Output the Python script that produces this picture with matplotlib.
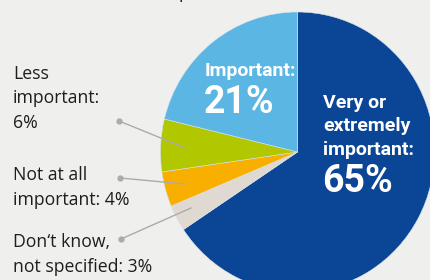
import matplotlib.pyplot as plt

# slices, clockwise from 12 o'clock
labels = ["Very or extremely important", "Don't know, not specified",
          "Not at all important", "Less important", "Important"]
shares = [65, 3, 4, 6, 21]
colors = ["#0B4595", "#E0D9D1", "#F9AF00", "#B1C700", "#5CB6E4"]

# outside labels (left column) and where their leader lines point
side_texts = ["Less\nimportant:\n6%", "Not at all\nimportant: 4%",
              "Don\u2018t know,\nnot specified: 3%"]
side_last_baseline = [128, 205, 272]      # px from top, last line
leader_start = [(119, 121), (120, 178), (121, 239)]
leader_end = [(183, 147), (185, 184), (191, 208)]

W, H = 430, 280
bg = "#EFEFED"

fig = plt.figure(figsize=(4.3, 2.8), dpi=100, facecolor=bg)

# pie in its own axes: centre (297.5, 152) px, radii 137 x 140 px
cx, cy, rx, ry = 297.5, 152, 137, 140
pax = fig.add_axes([(cx - rx) / W, (H - cy - ry) / H, 2 * rx / W, 2 * ry / H])
pax.pie(shares, colors=colors, startangle=90, counterclock=False,
        radius=1, frame=True,
        wedgeprops=dict(linewidth=0.4, edgecolor="#d8e2ee"))
pax.set_aspect("auto")
pax.set_xlim(-1, 1)
pax.set_ylim(-1, 1)
pax.axis("off")

# overlay axes in pixel units for texts and leader lines
ax = fig.add_axes([0, 0, 1, 1])
ax.set_xlim(0, W)
ax.set_ylim(0, H)
ax.axis("off")
ax.patch.set_alpha(0)

font_out = ["Open Sans", "DejaVu Sans"]
for txt, yb in zip(side_texts, side_last_baseline):
    ax.text(13, H - yb, txt, fontsize=12.7, family=font_out, color="#1e1e1e",
            va="baseline", ha="left", linespacing=1.47)

for (x0, y0), (x1, y1) in zip(leader_start, leader_end):
    ax.plot([x0, x1], [H - y0, H - y1], color="#ABABAB", lw=1)
    ax.plot(x0, H - y0, "o", ms=3.5, color="#ABABAB")

font_in = ["Roboto", "DejaVu Sans"]
ax.text(205, H - 76, "Important:", fontsize=14, weight="bold", family=font_in,
        color="white", va="baseline")
ax.text(204, H - 113, "21%", fontsize=27, weight="bold", family=font_in,
        color="white", va="baseline")
ax.text(323, H - 155, "Very or\nextremely\nimportant:", fontsize=14,
        weight="bold", family=font_in, color="white", va="baseline",
        linespacing=1.4)
ax.text(322, H - 192, "65%", fontsize=27, weight="bold", family=font_in,
        color="white", va="baseline")

# bottom of a cut-off title line
ax.text(179, H + 2, "p", fontsize=12.7, family=font_out, color="#1e1e1e",
        va="baseline")

fig.savefig("out.png", dpi=100, facecolor=bg)
